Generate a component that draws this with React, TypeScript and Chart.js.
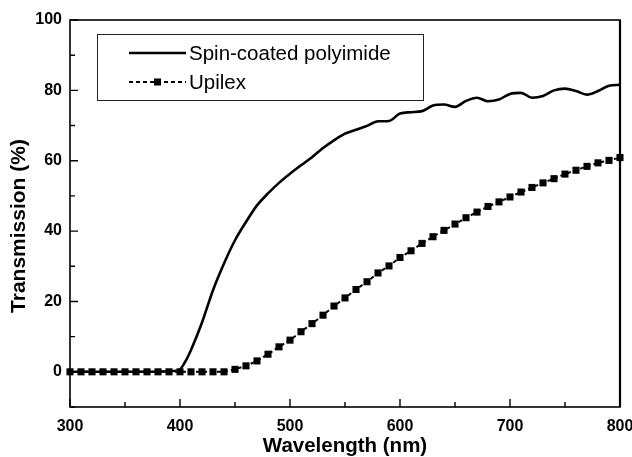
import React, { useEffect, useRef } from "react";
import { Chart, registerables } from "chart.js";

Chart.register(...registerables);

const polyWavelengths = [300, 350, 398, 405, 410, 420, 430, 440, 450, 460, 470, 480, 490, 500, 510, 520, 530, 540, 550, 560, 570, 580, 590, 600, 610, 620, 630, 640, 650, 660, 670, 680, 690, 700, 710, 720, 730, 740, 750, 760, 770, 780, 790, 800];
const polyValues = [0, 0, 0.3, 3, 6.2, 14, 23.2, 30.8, 37.4, 42.6, 47.3, 50.7, 53.7, 56.3, 58.7, 61, 63.6, 65.8, 67.7, 68.8, 69.9, 71.2, 71.3, 73.4, 73.8, 74.1, 75.7, 76, 75.3, 77, 77.9, 76.9, 77.4, 79, 79.3, 77.9, 78.4, 80, 80.5, 79.8, 78.8, 79.8, 81.3, 81.6];

const upilexWavelengths = [300, 310, 320, 330, 340, 350, 360, 370, 380, 390, 400, 410, 420, 430, 440, 450, 460, 470, 480, 490, 500, 510, 520, 530, 540, 550, 560, 570, 580, 590, 600, 610, 620, 630, 640, 650, 660, 670, 680, 690, 700, 710, 720, 730, 740, 750, 760, 770, 780, 790, 800];
const upilexValues = [0, 0, 0, 0, 0, 0, 0, 0, 0, 0, 0, 0, 0, 0, 0, 0.7, 1.7, 3.1, 5, 7.1, 9, 11.4, 13.7, 16.1, 18.7, 21, 23.4, 25.6, 28.1, 30.1, 32.5, 34.4, 36.5, 38.4, 40.2, 42, 43.8, 45.4, 47, 48.3, 49.7, 51.1, 52.4, 53.7, 54.9, 56.2, 57.3, 58.4, 59.4, 60.1, 60.9];

const xTickValues = [300, 400, 500, 600, 700, 800];
const xMinorValues = [350, 450, 550, 650, 750];
const yTickValues = [0, 20, 40, 60, 80, 100];
const yMinorValues = [-10, 10, 30, 50, 70, 90];

const seriesNames = ["Spin-coated polyimide", "Upilex"];
const xTitle = "Wavelength (nm)";
const yTitle = "Transmission (%)";

const FONT = "'Liberation Sans', Arial, Helvetica, sans-serif";

const framePlugin = {
  id: "framePlugin",
  afterDatasetsDraw(chart: any) {
    const ctx = chart.ctx;
    const { left, right, top, bottom } = chart.chartArea;
    const xs = chart.scales.x;
    const ys = chart.scales.y;
    ctx.save();
    ctx.strokeStyle = "#000";
    ctx.lineWidth = 1.6;
    ctx.strokeRect(left, top, right - left, bottom - top);
    ctx.lineWidth = 2.2;
    ctx.beginPath();
    ctx.moveTo(right, top);
    ctx.lineTo(right, bottom);
    ctx.stroke();
    ctx.lineWidth = 1.4;
    ctx.beginPath();
    xTickValues.forEach((v) => {
      const px = xs.getPixelForValue(v);
      ctx.moveTo(px, bottom);
      ctx.lineTo(px, bottom - 8);
    });
    xMinorValues.forEach((v) => {
      const px = xs.getPixelForValue(v);
      ctx.moveTo(px, bottom);
      ctx.lineTo(px, bottom - 5);
    });
    yTickValues.forEach((v) => {
      const py = ys.getPixelForValue(v);
      ctx.moveTo(left, py);
      ctx.lineTo(left + 8, py);
    });
    yMinorValues.forEach((v) => {
      const py = ys.getPixelForValue(v);
      ctx.moveTo(left, py);
      ctx.lineTo(left + 5, py);
    });
    ctx.stroke();

    // axis titles
    ctx.fillStyle = "#000";
    ctx.textAlign = "center";
    ctx.textBaseline = "middle";
    ctx.font = `bold 20.5px ${FONT}`;
    ctx.fillText(xTitle, (left + right) / 2, 446);
    ctx.save();
    ctx.translate(19, 226);
    ctx.rotate(-Math.PI / 2);
    ctx.font = `bold 21px ${FONT}`;
    ctx.fillText(yTitle, 0, 0);
    ctx.restore();

    // legend
    ctx.fillStyle = "#fff";
    ctx.fillRect(97, 34, 326, 66);
    ctx.lineWidth = 1;
    ctx.strokeStyle = "#222";
    ctx.strokeRect(97.5, 34.5, 326, 66);
    ctx.strokeStyle = "#000";
    ctx.lineWidth = 2.5;
    ctx.beginPath();
    ctx.moveTo(129, 53);
    ctx.lineTo(186, 53);
    ctx.stroke();
    ctx.lineWidth = 2;
    ctx.setLineDash([4, 3]);
    ctx.beginPath();
    ctx.moveTo(129, 82);
    ctx.lineTo(186, 82);
    ctx.stroke();
    ctx.setLineDash([]);
    ctx.fillStyle = "#000";
    ctx.fillRect(154, 78.5, 7, 7);
    ctx.font = `20.5px ${FONT}`;
    ctx.textAlign = "left";
    ctx.fillText(seriesNames[0], 189, 54);
    ctx.fillText(seriesNames[1], 189, 83);
    ctx.restore();
  },
};

export default function App() {
  const canvasRef = useRef<HTMLCanvasElement | null>(null);

  useEffect(() => {
    if (!canvasRef.current) return;
    const chart = new Chart(canvasRef.current, {
      type: "line",
      data: {
        datasets: [
          {
            label: seriesNames[0],
            data: polyWavelengths.map((x, i) => ({ x, y: polyValues[i] })),
            borderColor: "#000",
            borderWidth: 2.6,
            pointRadius: 0,
            cubicInterpolationMode: "monotone",
            fill: false,
          },
          {
            label: seriesNames[1],
            data: upilexWavelengths.map((x, i) => ({ x, y: upilexValues[i] })),
            borderColor: "#000",
            borderWidth: 2,
            borderDash: [4, 3],
            pointStyle: "rect",
            pointRadius: 5,
            pointBackgroundColor: "#000",
            pointBorderColor: "#000",
            pointBorderWidth: 0,
            fill: false,
            clip: false as any,
          },
        ],
      },
      options: {
        animation: false,
        responsive: false,
        layout: { padding: { top: 20, right: 12, left: 0, bottom: 0 } },
        plugins: { legend: { display: false }, tooltip: { enabled: false } },
        scales: {
          x: {
            type: "linear",
            min: 300,
            max: 800,
            afterBuildTicks: (s: any) => {
              s.ticks = xTickValues.map((v) => ({ value: v }));
            },
            afterFit: (s: any) => {
              s.height = 50;
              s.paddingRight = 0;
              s.paddingLeft = 0;
            },
            grid: { display: false, drawTicks: false },
            border: { display: false },
            ticks: {
              padding: 10,
              color: "#000",
              font: { family: FONT, size: 16, weight: "bold" },
              maxRotation: 0,
            },
          },
          y: {
            type: "linear",
            min: -10,
            max: 100,
            afterBuildTicks: (s: any) => {
              s.ticks = yTickValues.map((v) => ({ value: v }));
            },
            afterFit: (s: any) => {
              s.width = 70;
              s.paddingTop = 0;
              s.paddingBottom = 0;
            },
            grid: { display: false, drawTicks: false },
            border: { display: false },
            ticks: {
              padding: 8,
              color: "#000",
              font: { family: FONT, size: 16, weight: "bold" },
            },
          },
        },
      } as any,
      plugins: [framePlugin],
    });
    return () => chart.destroy();
  }, []);

  return (
    <div style={{ position: "absolute", left: 0, top: 0, width: 632, height: 457, background: "#fff" }}>
      <canvas ref={canvasRef} width={632} height={457} />
    </div>
  );
}
